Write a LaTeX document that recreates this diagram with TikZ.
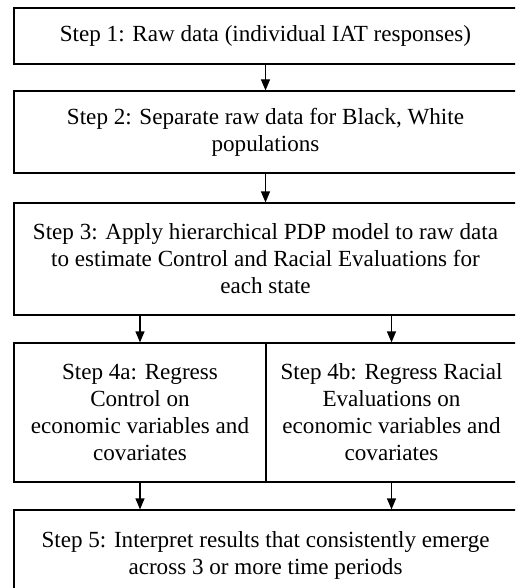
\documentclass[tikz,border=0pt]{standalone}
\usepackage{fontspec}
\setmainfont{Liberation Serif}
\usetikzlibrary{arrows.meta}

\tikzset{
    box/.style={draw, line width=1.2pt, inner sep=0pt, align=center,
        font=\fontsize{23.1}{27}\selectfont},
    arr/.style={line width=1.2pt, -{Triangle[length=11pt,width=9pt]}}
}

\begin{document}
\begin{tikzpicture}[x=1pt, y=-1pt]
    % Page frame
    \clip (0,0) rectangle (515,588);
    \fill[white] (0,0) rectangle (515,588);

    % Steps
    \node[box, minimum width=503pt, minimum height=56pt] (step1) at (265.5,36)
        {Step 1: Raw data (individual IAT responses)};
    \node[box, minimum width=503pt, minimum height=82pt] (step2) at (265.5,132)
        {Step 2: Separate raw data for Black, White\\populations};
    \node[box, minimum width=503pt, minimum height=112pt] (step3) at (265.5,259)
        {Step 3: Apply hierarchical PDP model to raw data\\to estimate Control and Racial Evaluations for\\each state};
    \node[box, minimum width=252pt, minimum height=139pt] (step4a) at (140,412.5)
        {Step 4a: Regress\\Control on\\economic variables and\\covariates};
    \node[box, minimum width=251pt, minimum height=139pt] (step4b) at (391.5,412.5)
        {Step 4b: Regress Racial\\Evaluations on\\economic variables and\\covariates};
    \node[box, minimum width=503pt, minimum height=90pt] (step5) at (265.5,555)
        {Step 5: Interpret results that consistently emerge\\across 3 or more time periods};

    % Arrows
    \draw[arr] (step1) -- (step2);
    \draw[arr] (step2) -- (step3);
    \draw[arr] (step3.south -| step4a) -- (step4a);
    \draw[arr] (step3.south -| step4b) -- (step4b);
    \draw[arr] (step4a) -- (step5.north -| step4a);
    \draw[arr] (step4b) -- (step5.north -| step4b);
\end{tikzpicture}
\end{document}
